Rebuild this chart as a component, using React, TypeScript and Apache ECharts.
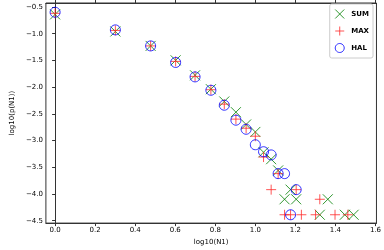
import React, { useEffect, useRef } from "react";
import * as echarts from "echarts";

const sumX = [0, 0.301, 0.477, 0.602, 0.699, 0.778, 0.845, 0.903, 0.954, 1.0, 1.041, 1.079, 1.114, 1.146, 1.176, 1.204, 1.322, 1.362, 1.447, 1.491];
const sumY = [-0.64, -0.96, -1.23, -1.5, -1.78, -2.04, -2.27, -2.47, -2.7, -2.84, -3.22, -3.35, -3.56, -4.1, -3.92, -4.1, -4.39, -4.1, -4.39, -4.39];
const maxX = [0, 0.301, 0.477, 0.602, 0.699, 0.778, 0.845, 0.903, 0.954, 1.0, 1.041, 1.079, 1.114, 1.146, 1.176, 1.204, 1.23, 1.301, 1.322, 1.398, 1.462];
const maxY = [-0.62, -0.94, -1.23, -1.52, -1.8, -2.05, -2.32, -2.6, -2.77, -2.92, -3.31, -3.92, -3.62, -4.39, -4.39, -3.92, -4.39, -4.39, -4.1, -4.39, -4.39];
const halX = [0, 0.301, 0.477, 0.602, 0.699, 0.778, 0.845, 0.903, 0.954, 1.0, 1.041, 1.079, 1.114, 1.146, 1.176, 1.204];
const halY = [-0.6, -0.93, -1.23, -1.54, -1.81, -2.06, -2.34, -2.62, -2.79, -3.08, -3.21, -3.27, -3.62, -3.62, -4.39, -3.92];

const xTicks = [0, 0.2, 0.4, 0.6, 0.8, 1.0, 1.2, 1.4, 1.6];
const yTicks = [-4.5, -4.0, -3.5, -3.0, -2.5, -2.0, -1.5, -1.0, -0.5];

const seriesNames = ["SUM", "MAX", "HAL"];

const zip = (xs: number[], ys: number[]) => xs.map((x, i) => [x, ys[i]]);
const fmt = (v: number) => (v < 0 ? "\u2212" : "") + Math.abs(v).toFixed(1);

export default function App() {
  const ref = useRef<HTMLDivElement>(null);
  useEffect(() => {
    if (!ref.current) return;
    const chart = echarts.init(ref.current, null, { renderer: "svg" });
    const font = "DejaVu Sans";
    const axisColor = "#333";
    const X_MIN = -0.046, X_MAX = 1.605, Y_MIN = -4.546, Y_MAX = -0.427;
    chart.setOption({
      animation: false,
      textStyle: { fontFamily: font },
      grid: { left: 37, right: 6, top: 3, bottom: 22, show: true, borderColor: axisColor, borderWidth: 1, backgroundColor: "#fff" },
      legend: {
        orient: "vertical",
        right: 11,
        top: 4,
        padding: [3, 4, 3, 3],
        itemGap: 3,
        itemWidth: 9,
        itemHeight: 9,
        itemStyle: { borderWidth: 1 },
        backgroundColor: "rgba(255,255,255,0.8)",
        borderColor: "#ccc",
        borderWidth: 1,
        borderRadius: 2,
        data: seriesNames,
        textStyle: { fontFamily: font, fontSize: 7, color: "#000", fontWeight: "bold", padding: [0, 0, 0, 2] },
      },
      xAxis: [
        {
          type: "value",
          min: X_MIN,
          max: X_MAX,
          position: "bottom",
          name: "log10(N1)",
          nameLocation: "middle",
          nameGap: 14,
          nameTextStyle: { fontFamily: font, fontSize: 7, color: "#000" },
          splitLine: { show: false },
          axisLine: { show: true, lineStyle: { color: axisColor, width: 1 } },
          axisTick: { show: true, length: 3, customValues: xTicks, lineStyle: { color: axisColor } },
          axisLabel: { show: true, customValues: xTicks, formatter: fmt, fontFamily: font, fontSize: 7, color: "#000", margin: 3 },
        },
        {
          type: "value",
          min: X_MIN,
          max: X_MAX,
          position: "top",
          splitLine: { show: false },
          axisLine: { show: true, lineStyle: { color: axisColor, width: 1 } },
          axisTick: { show: true, length: 3, customValues: xTicks, lineStyle: { color: axisColor } },
          axisLabel: { show: false },
        },
      ],
      yAxis: {
        type: "value",
        min: Y_MIN,
        max: Y_MAX,
        name: "log10(p(N1))",
        nameLocation: "middle",
        nameGap: 26,
        nameTextStyle: { fontFamily: font, fontSize: 7, color: "#000" },
        splitLine: { show: false },
        axisLine: { show: true, lineStyle: { color: axisColor, width: 1 } },
        axisTick: { show: true, length: 3, customValues: yTicks, lineStyle: { color: axisColor } },
        axisLabel: { show: true, customValues: yTicks, formatter: fmt, fontFamily: font, fontSize: 7, color: "#000", margin: 3 },
      },
      series: [
        {
          name: "SUM",
          type: "scatter",
          data: zip(sumX, sumY),
          symbol: "path://M0,0L10,10M10,0L0,10",
          symbolSize: 10,
          itemStyle: { color: "none", borderColor: "#008000", borderWidth: 1 },
        },
        {
          name: "MAX",
          type: "scatter",
          data: zip(maxX, maxY),
          symbol: "path://M5,0L5,10M0,5L10,5",
          symbolSize: 10,
          itemStyle: { color: "none", borderColor: "#ff2a2a", borderWidth: 1 },
        },
        {
          name: "HAL",
          type: "scatter",
          data: zip(halX, halY),
          symbol: "circle",
          symbolSize: 10,
          itemStyle: { color: "none", borderColor: "#0000ff", borderWidth: 1 },
        },
      ],
    });
    return () => chart.dispose();
  }, []);
  return <div ref={ref} style={{ position: "fixed", left: 0, top: 0, width: 384, height: 250 }} />;
}
